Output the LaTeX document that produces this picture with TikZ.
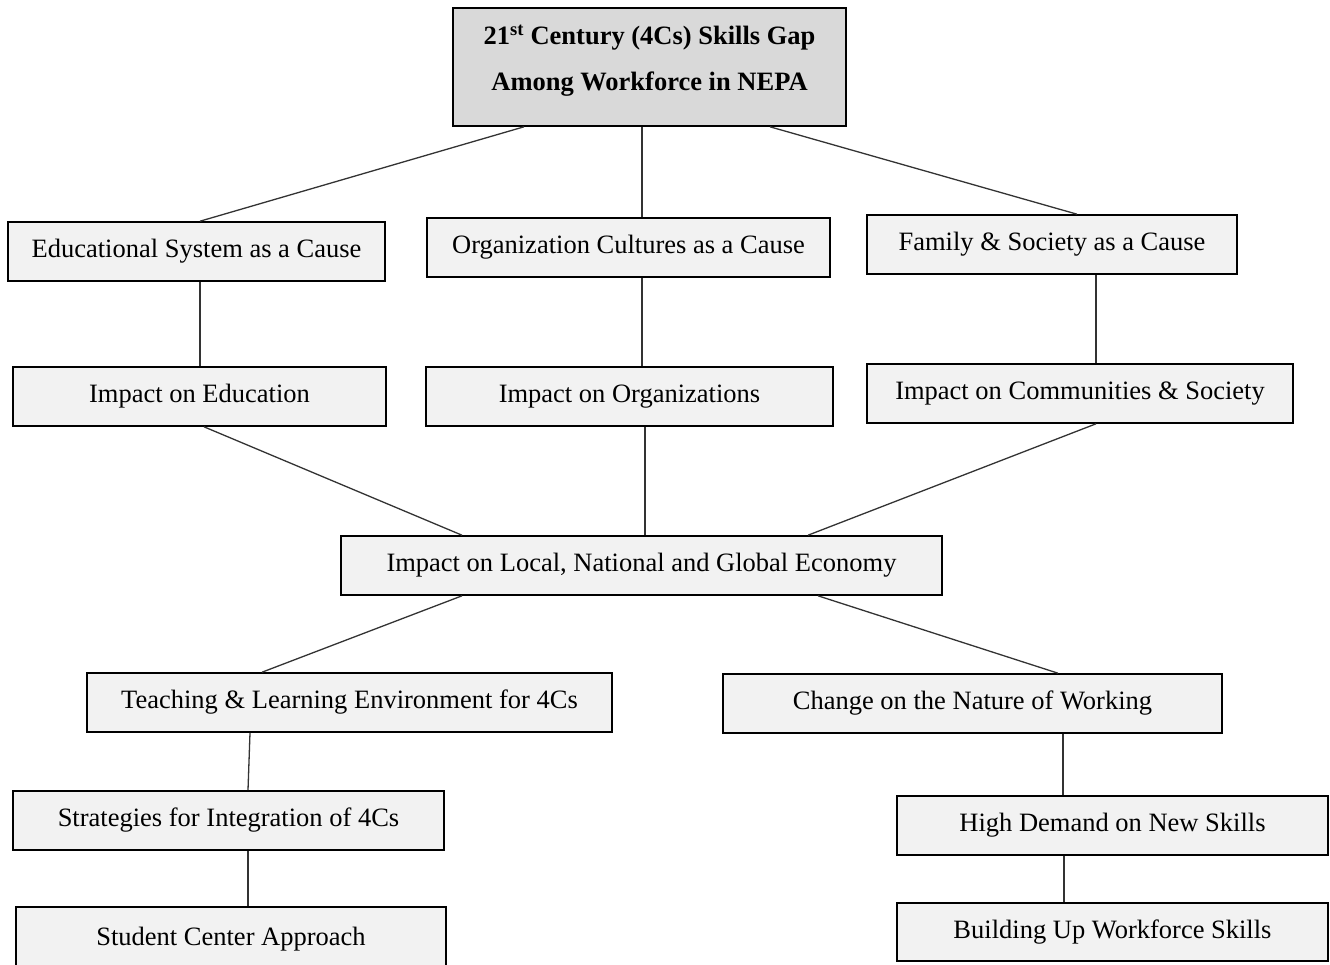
\documentclass[tikz,border=0pt]{standalone}
\usepackage{fontspec}
\setmainfont{Liberation Serif}
\begin{document}
\begin{tikzpicture}[x=1pt,y=-1pt,
  box/.style={draw=black, line width=1.6pt, fill=boxfill, inner sep=0pt,
    minimum height=59pt, font=\fontsize{26.5}{32}\selectfont,
    text height=18pt, text depth=6pt},
  link/.style={draw=linkgray, line width=1.3pt}]
\definecolor{boxfill}{HTML}{F2F2F2}
\definecolor{titlefill}{HTML}{D9D9D9}
\definecolor{linkgray}{HTML}{333333}
\useasboundingbox (0,0) rectangle (1330,964);
\clip (0,0) rectangle (1330,964);

% title box
\node (top) [box, fill=titlefill, minimum width=393pt, minimum height=118pt] at (649.5,67) {};
\node (toptext) [align=center, font=\fontsize{26.5}{46}\selectfont\bfseries] at (649.5,60.5)
  {21\textsuperscript{st} Century (4Cs) Skills Gap\\Among Workforce in NEPA};

% causes
\node (b1) [box, minimum width=377pt] at (196.5,251.5) {Educational System as a Cause};
\node (b2) [box, minimum width=403pt] at (628.5,247.5) {Organization Cultures as a Cause};
\node (b3) [box, minimum width=370pt] at (1052,244.5) {Family \& Society as a Cause};

% impacts
\node (b4) [box, minimum width=373pt] at (199.5,396.5) {Impact on Education};
\node (b5) [box, minimum width=407pt] at (629.5,396.5) {Impact on Organizations};
\node (b6) [box, minimum width=426pt] at (1080,393.5) {Impact on Communities \& Society};

% economy
\node (b7) [box, minimum width=601pt] at (641.5,565.5) {Impact on Local, National and Global Economy};

% responses
\node (b8) [box, minimum width=525pt] at (349.5,702.5) {Teaching \& Learning Environment for 4Cs};
\node (b9) [box, minimum width=499pt] at (972.5,703.5) {Change on the Nature of Working};
\node (b10) [box, minimum width=431pt] at (228.5,820.5) {Strategies for Integration of 4Cs};
\node (b11) [box, minimum width=431pt] at (1112.5,825.5) {High Demand on New Skills};
\node (b12) [box, minimum width=430pt, minimum height=64pt] at (231,939) {Student Center Approach};
\node (b13) [box, minimum width=431pt, minimum height=58pt] at (1112.5,932) {Building Up Workforce Skills};

% connectors
\draw[link] ([xshift=-125.5pt]top.south) -- ([xshift=3.5pt]b1.north);
\draw[link] ([xshift=-7.5pt]top.south) -- ([xshift=13.5pt]b2.north);
\draw[link] ([xshift=120.5pt]top.south) -- ([xshift=25pt]b3.north);
\draw[link] ([xshift=3.5pt]b1.south) -- ([xshift=0.5pt]b4.north);
\draw[link] ([xshift=13.5pt]b2.south) -- ([xshift=12.5pt]b5.north);
\draw[link] ([xshift=44pt]b3.south) -- ([xshift=16pt]b6.north);
\draw[link] ([xshift=4.5pt]b4.south) -- ([xshift=-179.5pt]b7.north);
\draw[link] ([xshift=15.5pt]b5.south) -- ([xshift=3.5pt]b7.north);
\draw[link] ([xshift=16pt]b6.south) -- ([xshift=166.5pt]b7.north);
\draw[link] ([xshift=-179.5pt]b7.south) -- ([xshift=-87.5pt]b8.north);
\draw[link] ([xshift=176.5pt]b7.south) -- ([xshift=85.5pt]b9.north);
\draw[link] ([xshift=-99.5pt]b8.south) -- ([xshift=19.5pt]b10.north);
\draw[link] ([xshift=19.5pt]b10.south) -- ([xshift=17pt]b12.north);
\draw[link] ([xshift=90.5pt]b9.south) -- ([xshift=-49.5pt]b11.north);
\draw[link] ([xshift=-48.5pt]b11.south) -- ([xshift=-48.5pt]b13.north);
\end{tikzpicture}
\end{document}
